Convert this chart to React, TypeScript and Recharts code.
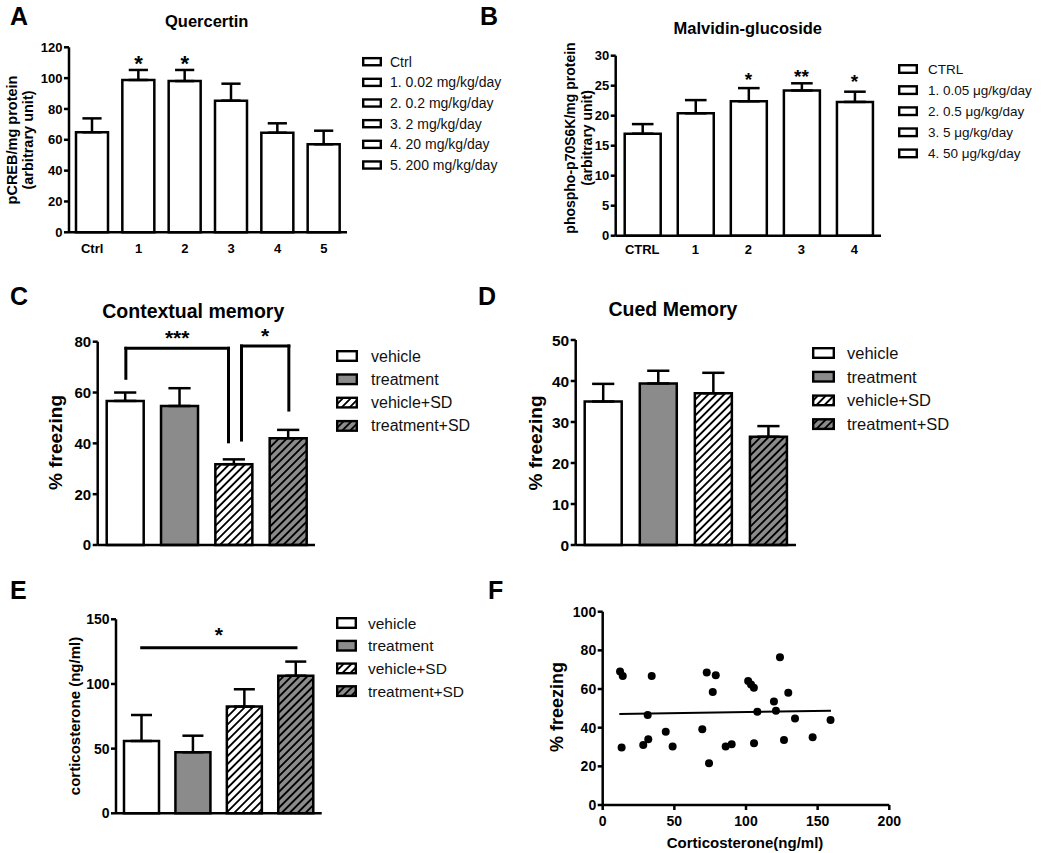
import React from 'react';
import {
  BarChart, Bar, XAxis, YAxis, ErrorBar, Cell, Legend, Label,
  ReferenceLine, ReferenceDot, ScatterChart, Scatter,
} from 'recharts';

const FONT = '"Liberation Sans", Arial, Helvetica, sans-serif';

// ---- A: quercetin ----
const quercetinGroups = ['Ctrl', '1', '2', '3', '4', '5'];
const quercetinDoses = ['Ctrl', '1. 0.02 mg/kg/day', '2. 0.2 mg/kg/day', '3. 2 mg/kg/day', '4. 20 mg/kg/day', '5. 200 mg/kg/day'];
const quercetinMean = [64.9, 98.8, 98.1, 85.4, 64.6, 57.1];
const quercetinSem = [9.0, 6.5, 7.2, 11.0, 6.1, 8.8];
const quercetinTicks = [0, 20, 40, 60, 80, 100, 120];
const quercetinStars = [
  { group: '1', y: 113, text: '*' },
  { group: '2', y: 113, text: '*' },
];

// ---- B: malvidin-glucoside ----
const malvidinGroups = ['CTRL', '1', '2', '3', '4'];
const malvidinDoses = ['CTRL', '1. 0.05 \u03bcg/kg/day', '2. 0.5 \u03bcg/kg/day', '3. 5 \u03bcg/kg/day', '4. 50 \u03bcg/kg/day'];
const malvidinMean = [17.0, 20.4, 22.4, 24.2, 22.3];
const malvidinSem = [1.6, 2.2, 2.2, 1.2, 1.7];
const malvidinTicks = [0, 5, 10, 15, 20, 25, 30];
const malvidinStars = [
  { group: '2', y: 26.8, text: '*' },
  { group: '3', y: 27.3, text: '**' },
  { group: '4', y: 26.5, text: '*' },
];

// ---- C, D, E: SD experiment ----
const sdGroups = ['vehicle', 'treatment', 'vehicle+SD', 'treatment+SD'];
const contextualMean = [56.7, 54.7, 31.8, 42.0];
const contextualSem = [3.3, 7.0, 1.9, 3.3];
const contextualTicks = [0, 20, 40, 60, 80];
const contextualBrackets = [
  { from: 'vehicle', to: 'vehicle+SD', fromY: 65.6, toY: 40.6, topY: 77.4, fromDx: 1, toDx: -5, text: '***' },
  { from: 'vehicle+SD', to: 'treatment+SD', fromY: 41.3, toY: 53.1, topY: 78.3, fromDx: 8, toDx: 1, text: '*' },
];

const cuedMean = [35.0, 39.4, 37.0, 26.4];
const cuedSem = [4.3, 3.1, 5.0, 2.6];
const cuedTicks = [0, 10, 20, 30, 40, 50];

const corticoMean = [55.9, 47.2, 82.5, 106.4];
const corticoSem = [20.1, 12.8, 13.4, 10.9];
const corticoTicks = [0, 50, 100, 150];
const corticoBrackets = [
  { from: 'vehicle', to: 'treatment+SD', fromY: 128, toY: 128, topY: 128, fromDx: 0, toDx: 0, text: '*' },
];

// ---- F: correlation ----
const scatterPoints = [
  { x: 12.1, y: 69.0 }, { x: 14.0, y: 66.7 }, { x: 13.2, y: 29.7 }, { x: 34.2, y: 66.7 },
  { x: 31.4, y: 46.6 }, { x: 31.8, y: 34.0 }, { x: 28.3, y: 31.0 }, { x: 44.0, y: 37.9 },
  { x: 48.8, y: 30.2 }, { x: 69.5, y: 39.2 }, { x: 72.6, y: 68.6 }, { x: 78.9, y: 67.1 },
  { x: 76.8, y: 58.5 }, { x: 74.2, y: 21.6 }, { x: 85.8, y: 30.2 }, { x: 90.0, y: 31.4 },
  { x: 101.5, y: 64.2 }, { x: 103.5, y: 62.4 }, { x: 105.5, y: 60.6 }, { x: 107.9, y: 48.3 },
  { x: 105.6, y: 31.9 }, { x: 119.5, y: 53.5 }, { x: 120.9, y: 48.8 }, { x: 123.7, y: 76.4 },
  { x: 129.5, y: 58.1 }, { x: 134.2, y: 44.8 }, { x: 126.5, y: 33.6 }, { x: 146.5, y: 35.0 },
  { x: 159.0, y: 44.0 },
];
const fitLine = [{ x: 11.6, y: 47.1 }, { x: 159.3, y: 48.8 }];
const scatterXTicks = [0, 50, 100, 150, 200];
const scatterYTicks = [0, 20, 40, 60, 80, 100];

const WHITE = '#ffffff';
const GREY = '#8b8b8b';
const sdFills = [WHITE, GREY, 'url(#hatchWhite)', 'url(#hatchGrey)'];

const AXIS = { stroke: '#000', strokeWidth: 2.5 };

type Frame = { left: number; top: number; width: number; height: number; plot: number[] };
type Star = { group: string; y: number; text: string };
type Bracket = { from: string; to: string; fromY: number; toY: number; topY: number; fromDx: number; toDx: number; text: string };
type LegendSpec = { labels: string[]; fills: string[]; x: number; w: number; h: number; y0: number; step: number; textX: number; fontSize: number };
type AxisTitle = { lines: string[]; xs: number[]; cy: number; fontSize: number };

// panel boxes and plot rectangles in page pixels
const PANEL_A: Frame = { left: 0, top: 0, width: 520, height: 262, plot: [69, 47.3, 347, 232.3] };
const PANEL_B: Frame = { left: 520, top: 0, width: 530, height: 262, plot: [615.7, 55.7, 881, 235.7] };
const PANEL_C: Frame = { left: 0, top: 262, width: 520, height: 300, plot: [97.7, 341.7, 315, 545] };
const PANEL_D: Frame = { left: 520, top: 262, width: 530, height: 300, plot: [575.7, 340, 796, 545] };
const PANEL_E: Frame = { left: 0, top: 560, width: 520, height: 293, plot: [116, 619.3, 321.7, 813.3] };
const PANEL_F: Frame = { left: 520, top: 560, width: 530, height: 293, plot: [602.7, 611.7, 889.3, 805] };

const frameProps = (f: Frame) => ({
  margin: { top: f.plot[1] - f.top, right: f.left + f.width - f.plot[2], bottom: 0, left: 0 },
  yWidth: f.plot[0] - f.left,
  xHeight: f.top + f.height - f.plot[3],
});

const AxisTitleText = ({ spec, frame }: { spec: AxisTitle; frame: Frame }) => (
  <g>
    {spec.lines.map((line, i) => {
      const x = spec.xs[i] - frame.left;
      const y = spec.cy - frame.top;
      return (
        <text key={i} x={x} y={y} transform={`rotate(-90 ${x} ${y})`} textAnchor="middle"
          dominantBaseline="central" fontSize={spec.fontSize} fontWeight={700} fontFamily={FONT} fill="#000">
          {line}
        </text>
      );
    })}
  </g>
);

const LegendBoxes = ({ spec, frame }: { spec: LegendSpec; frame: Frame }) => {
  const sw = 2.4;
  return (
    <svg width={frame.width} height={frame.height} style={{ display: 'block' }}>
      {spec.labels.map((label, i) => {
        const cy = spec.y0 + i * spec.step - frame.top;
        return (
          <g key={label}>
            <rect x={spec.x - frame.left + sw / 2} y={cy - spec.h / 2 + sw / 2} width={spec.w - sw} height={spec.h - sw}
              fill={spec.fills[i]} stroke="#000" strokeWidth={sw} />
            <text x={spec.textX - frame.left} y={cy} dominantBaseline="central" fontSize={spec.fontSize}
              fontFamily={FONT} fill="#111">{label}</text>
          </g>
        );
      })}
    </svg>
  );
};

interface BarPanelProps {
  frame: Frame;
  groups: string[];
  mean: number[];
  sem: number[];
  fills: string[];
  barSize: number;
  ticks: number[];
  yFont: number;
  xFont?: number;
  xTickMargin?: number;
  yTitle: AxisTitle;
  legend: LegendSpec;
  stars?: Star[];
  starSize?: number;
  brackets?: Bracket[];
  bracketLift?: number;
}

const BarPanel = ({
  frame, groups, mean, sem, fills, barSize, ticks, yFont, xFont, xTickMargin = 10,
  yTitle, legend, stars = [], starSize = 20, brackets = [], bracketLift = 15,
}: BarPanelProps) => {
  const fp = frameProps(frame);
  const rows = groups.map((g, i) => ({ name: g, mean: mean[i], err: [0, sem[i]] }));
  const line = { stroke: '#000', strokeWidth: 3, strokeLinecap: 'square' as const };

  return (
    <div style={{ position: 'absolute', left: frame.left, top: frame.top }}>
      <BarChart width={frame.width} height={frame.height} data={rows} margin={fp.margin}>
        <XAxis
          dataKey="name"
          height={fp.xHeight}
          interval={0}
          tickLine={false}
          axisLine={AXIS}
          tickSize={0}
          tickMargin={xTickMargin}
          tick={xFont ? { fill: '#000', fontSize: xFont, fontWeight: 700, fontFamily: FONT } : false}
        />
        <YAxis
          width={fp.yWidth}
          domain={[0, ticks[ticks.length - 1]]}
          ticks={ticks}
          interval={0}
          tickSize={5}
          tickMargin={1.5}
          axisLine={AXIS}
          tickLine={AXIS}
          tick={{ fill: '#000', fontSize: yFont, fontWeight: 700, fontFamily: FONT }}
        >
          <Label content={() => <AxisTitleText spec={yTitle} frame={frame} />} />
        </YAxis>
        <Bar dataKey="mean" barSize={barSize} stroke="#000" strokeWidth={2.5} isAnimationActive={false}>
          {fills.map((f, i) => <Cell key={i} fill={f} />)}
          <ErrorBar dataKey="err" direction="y" width={barSize * 0.3} stroke="#000" strokeWidth={2.5} isAnimationActive={false} />
        </Bar>
        {stars.map((s) => (
          <ReferenceDot
            key={`star-${s.group}`}
            x={s.group}
            y={s.y}
            r={0}
            ifOverflow="visible"
            shape={(p: any) => (
              <text x={p.cx} y={p.cy + starSize * 0.57} textAnchor="middle" fontSize={starSize}
                fontWeight={700} fontFamily={FONT} fill="#000">{s.text}</text>
            )}
          />
        ))}
        {brackets.flatMap((b, i) => {
          const parts = [];
          if (b.fromY !== b.topY) {
            parts.push(
              <ReferenceLine key={`bl${i}`} segment={[{ x: b.from, y: b.fromY }, { x: b.from, y: b.topY }]} ifOverflow="visible"
                shape={(p: any) => <line x1={p.x1 + b.fromDx} y1={p.y1} x2={p.x2 + b.fromDx} y2={p.y2} {...line} />} />,
            );
          }
          if (b.toY !== b.topY) {
            parts.push(
              <ReferenceLine key={`br${i}`} segment={[{ x: b.to, y: b.toY }, { x: b.to, y: b.topY }]} ifOverflow="visible"
                shape={(p: any) => <line x1={p.x1 + b.toDx} y1={p.y1} x2={p.x2 + b.toDx} y2={p.y2} {...line} />} />,
            );
          }
          parts.push(
            <ReferenceLine key={`bt${i}`} segment={[{ x: b.from, y: b.topY }, { x: b.to, y: b.topY }]} ifOverflow="visible"
              shape={(p: any) => {
                const x1 = p.x1 + b.fromDx;
                const x2 = p.x2 + b.toDx;
                return (
                  <g>
                    <line x1={x1} y1={p.y1} x2={x2} y2={p.y2} {...line} />
                    <text x={(x1 + x2) / 2} y={p.y1 - bracketLift + starSize * 0.57} textAnchor="middle"
                      fontSize={starSize} fontWeight={700} fontFamily={FONT} fill="#000">{b.text}</text>
                  </g>
                );
              }} />,
          );
          return parts;
        })}
        <Legend
          layout="horizontal"
          verticalAlign="middle"
          align="center"
          wrapperStyle={{ left: 0, top: 0, width: frame.width, height: frame.height, pointerEvents: 'none' }}
          content={() => <LegendBoxes spec={legend} frame={frame} />}
        />
      </BarChart>
    </div>
  );
};

const ScatterPanel = ({ frame }: { frame: Frame }) => {
  const fp = frameProps(frame);
  const tick = { fill: '#000', fontSize: 14, fontWeight: 700, fontFamily: FONT };
  return (
    <div style={{ position: 'absolute', left: frame.left, top: frame.top }}>
      <ScatterChart width={frame.width} height={frame.height} margin={fp.margin}>
        <XAxis
          type="number"
          dataKey="x"
          domain={[0, 200]}
          ticks={scatterXTicks}
          interval={0}
          height={fp.xHeight}
          tickSize={5}
          tickMargin={6.5}
          axisLine={AXIS}
          tickLine={AXIS}
          tick={tick}
        >
          <Label
            content={() => (
              <text x={745 - frame.left} y={847.7 - frame.top} textAnchor="middle" fontSize={15}
                fontWeight={700} fontFamily={FONT} fill="#000">Corticosterone(ng/ml)</text>
            )}
          />
        </XAxis>
        <YAxis
          type="number"
          dataKey="y"
          domain={[0, 100]}
          ticks={scatterYTicks}
          interval={0}
          width={fp.yWidth}
          tickSize={5}
          tickMargin={1.5}
          axisLine={AXIS}
          tickLine={AXIS}
          tick={tick}
        >
          <Label content={() => (
            <AxisTitleText spec={{ lines: ['% freezing'], xs: [556.7], cy: 707, fontSize: 18 }} frame={frame} />
          )} />
        </YAxis>
        <Scatter
          data={scatterPoints}
          fill="#000"
          isAnimationActive={false}
          shape={(p: any) => <circle cx={p.cx} cy={p.cy} r={4} fill="#000" />}
        />
        <ReferenceLine segment={fitLine} stroke="#000" strokeWidth={2} ifOverflow="visible" />
      </ScatterChart>
    </div>
  );
};

const panelLetters = [
  { t: 'A', x: 10, y: 25 }, { t: 'B', x: 480, y: 25 },
  { t: 'C', x: 10, y: 305 }, { t: 'D', x: 478, y: 305 },
  { t: 'E', x: 10, y: 599 }, { t: 'F', x: 488, y: 599 },
];
const panelTitles = [
  { t: 'Quercertin', x: 206.7, y: 26.7, fs: 16.5 },
  { t: 'Malvidin-glucoside', x: 747.8, y: 34.3, fs: 16.5 },
  { t: 'Contextual memory', x: 193.3, y: 318.3, fs: 19.5 },
  { t: 'Cued Memory', x: 673, y: 315.7, fs: 19.5 },
];

export default function App() {
  return (
    <div style={{ position: 'absolute', left: 0, top: 0, width: 1050, height: 853, background: '#fff', overflow: 'hidden' }}>
      <svg width={0} height={0} style={{ position: 'absolute' }}>
        <defs>
          <pattern id="hatchWhite" patternUnits="userSpaceOnUse" width={5.6} height={5.6} patternTransform="rotate(45)">
            <rect width={5.6} height={5.6} fill="#fff" />
            <line x1={2.8} y1={0} x2={2.8} y2={5.6} stroke="#000" strokeWidth={1.9} />
          </pattern>
          <pattern id="hatchGrey" patternUnits="userSpaceOnUse" width={5.6} height={5.6} patternTransform="rotate(45)">
            <rect width={5.6} height={5.6} fill={GREY} />
            <line x1={2.8} y1={0} x2={2.8} y2={5.6} stroke="#000" strokeWidth={1.9} />
          </pattern>
        </defs>
      </svg>

      <BarPanel
        frame={PANEL_A}
        groups={quercetinGroups}
        mean={quercetinMean}
        sem={quercetinSem}
        fills={quercetinGroups.map(() => WHITE)}
        barSize={32}
        ticks={quercetinTicks}
        yFont={13}
        xFont={13}
        xTickMargin={11}
        yTitle={{ lines: ['pCREB/mg protein', '(arbitrary unit)'], xs: [11.5, 28.3], cy: 140, fontSize: 14.5 }}
        legend={{ labels: quercetinDoses, fills: quercetinDoses.map(() => WHITE), x: 362, w: 20, h: 9.5, y0: 61.7, step: 20.66, textX: 390, fontSize: 14 }}
        stars={quercetinStars}
        starSize={22}
      />
      <BarPanel
        frame={PANEL_B}
        groups={malvidinGroups}
        mean={malvidinMean}
        sem={malvidinSem}
        fills={malvidinGroups.map(() => WHITE)}
        barSize={36}
        ticks={malvidinTicks}
        yFont={13}
        xFont={13}
        xTickMargin={9.3}
        yTitle={{ lines: ['phospho-p70S6K/mg protein', '(arbitrary unit)'], xs: [570, 587], cy: 138, fontSize: 14 }}
        legend={{ labels: malvidinDoses, fills: malvidinDoses.map(() => WHITE), x: 898, w: 20, h: 10, y0: 69, step: 21.1, textX: 928, fontSize: 13.5 }}
        stars={malvidinStars}
        starSize={19}
      />
      <BarPanel
        frame={PANEL_C}
        groups={sdGroups}
        mean={contextualMean}
        sem={contextualSem}
        fills={sdFills}
        barSize={37}
        ticks={contextualTicks}
        yFont={15}
        yTitle={{ lines: ['% freezing'], xs: [55], cy: 442.5, fontSize: 19 }}
        legend={{ labels: sdGroups, fills: sdFills, x: 336, w: 22, h: 12, y0: 356, step: 23.3, textX: 371, fontSize: 16 }}
        brackets={contextualBrackets}
        starSize={21}
        bracketLift={15}
      />
      <BarPanel
        frame={PANEL_D}
        groups={sdGroups}
        mean={cuedMean}
        sem={cuedSem}
        fills={sdFills}
        barSize={37}
        ticks={cuedTicks}
        yFont={15.5}
        yTitle={{ lines: ['% freezing'], xs: [535], cy: 443, fontSize: 19 }}
        legend={{ labels: sdGroups, fills: sdFills, x: 812, w: 23, h: 12, y0: 353, step: 23.7, textX: 847, fontSize: 16.5 }}
      />
      <BarPanel
        frame={PANEL_E}
        groups={sdGroups}
        mean={corticoMean}
        sem={corticoSem}
        fills={sdFills}
        barSize={35}
        ticks={corticoTicks}
        yFont={14}
        yTitle={{ lines: ['corticosterone (ng/ml)'], xs: [74], cy: 716, fontSize: 15 }}
        legend={{ labels: sdGroups, fills: sdFills, x: 336, w: 21, h: 12, y0: 623, step: 22.7, textX: 368, fontSize: 15.5 }}
        brackets={corticoBrackets}
        starSize={21}
        bracketLift={17.7}
      />
      <ScatterPanel frame={PANEL_F} />

      <svg width={1050} height={853} style={{ position: 'absolute', left: 0, top: 0, pointerEvents: 'none' }}>
        {panelLetters.map((l) => (
          <text key={l.t} x={l.x} y={l.y} fontSize={25} fontWeight={700} fontFamily={FONT} fill="#000">{l.t}</text>
        ))}
        {panelTitles.map((t) => (
          <text key={t.t} x={t.x} y={t.y} textAnchor="middle" fontSize={t.fs} fontWeight={700} fontFamily={FONT} fill="#000">{t.t}</text>
        ))}
      </svg>
    </div>
  );
}
